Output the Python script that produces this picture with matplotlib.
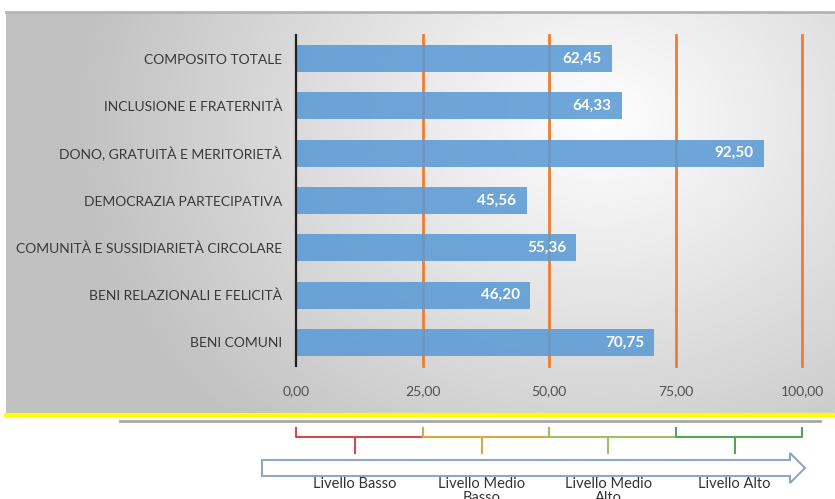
import numpy as np
import matplotlib
matplotlib.use('Agg')
import matplotlib.pyplot as plt
from matplotlib import transforms
from matplotlib.patches import Polygon

plt.rcParams['font.family'] = ['Lato', 'DejaVu Sans']

categories = ['COMPOSITO TOTALE', 'INCLUSIONE E FRATERNITÀ', 'DONO, GRATUITÀ E MERITORIETÀ',
              'DEMOCRAZIA PARTECIPATIVA', 'COMUNITÀ E SUSSIDIARIETÀ CIRCOLARE',
              'BENI RELAZIONALI E FELICITÀ', 'BENI COMUNI']
values = [62.45, 64.33, 92.50, 45.56, 55.36, 46.20, 70.75]
thresholds = [25, 50, 75, 100]
level_edges = [0, 25, 50, 75, 100]
level_names = ['Livello Basso', 'Livello Medio\nBasso', 'Livello Medio\nAlto', 'Livello Alto']
level_colors = ['#c9504c', '#d8a845', '#9fbf62', '#55a35a']


def fmt(v):
    return ('%.2f' % v).replace('.', ',')


W, H = 835, 499
fig = plt.figure(figsize=(W / 100, H / 100), dpi=100)

# background layer in pixel coordinates
bg = fig.add_axes([0, 0, 1, 1])
bg.set_xlim(0, W)
bg.set_ylim(H, 0)
bg.axis('off')

# gray radial gradient panel
px0, px1, py0, py1 = 6, W, 12, 413
xx, yy = np.meshgrid(np.linspace(px0, px1, 400), np.linspace(py0, py1, 200))
r = np.sqrt(((xx - 600) / 520) ** 2 + ((yy - 120) / 420) ** 2)
shade = np.clip(1.0 - 0.24 * r, 0.76, 1.0)
img = np.dstack([shade, shade, shade])
bg.imshow(img, extent=(px0, px1, py1, py0), aspect='auto', interpolation='bilinear')
bg.plot([px0, px1], [py0, py0], color='#b4b4b4', lw=2)
bg.plot([px0, px1], [415, 415], color='#ffff00', lw=3)
bg.plot([120, 820], [421, 421], color='#a8a8a8', lw=2)

# main bar chart
ax = fig.add_axes([296 / W, 1 - 366 / H, 506 / W, 331 / H])
ax.set_facecolor('none')
for t in thresholds:
    ax.axvline(t, color='#ED7D31', lw=2, zorder=1, clip_on=False)
ypos = np.arange(len(categories))
ax.barh(ypos, values, height=0.57, color='#5B9BD5', alpha=0.88, zorder=2)
for y, v in zip(ypos, values):
    ax.text(v - 2, y, fmt(v), ha='right', va='center', color='white',
            fontsize=11, fontweight='bold', zorder=3)
ax.set_xlim(0, 100)
ax.set_ylim(len(categories) - 0.5, -0.5)
ax.set_yticks(ypos)
ax.set_yticklabels(categories, fontsize=10, color='#383838')
ax.set_xticks([0, 25, 50, 75, 100])
ax.set_xticklabels([fmt(v) for v in [0, 25, 50, 75, 100]], fontsize=10, color='#505050')
ax.tick_params(axis='y', length=0, pad=10)
ax.tick_params(axis='x', length=0, pad=14)
for s in ['top', 'right', 'bottom']:
    ax.spines[s].set_visible(False)
ax.spines['left'].set_color('#202020')
ax.spines['left'].set_linewidth(1.6)
ax.spines['left'].set_zorder(4)

# level braces aligned with the data scale
tr = transforms.blended_transform_factory(ax.transData, bg.transData)
for i in range(4):
    a, b = level_edges[i], level_edges[i + 1]
    m = (a + b) / 2 - 0.8
    c = level_colors[i]
    ax.plot([a, a, b, b], [428, 437, 437, 428], color=c, lw=1.5, transform=tr, clip_on=False)
    ax.plot([m, m], [437, 453], color=c, lw=1.5, transform=tr, clip_on=False)
    ax.text(m, 477, level_names[i], transform=tr, ha='center', va='top', fontsize=10.5,
            color='#333333', linespacing=1.0, clip_on=False)

# arrow
arrow = Polygon([[262, 460], [790, 460], [790, 453], [805, 468], [790, 483], [790, 476], [262, 476]],
                closed=True, facecolor='white', edgecolor='#8fa5c9', lw=1.5)
bg.add_patch(arrow)

fig.savefig('out.png', dpi=100)
